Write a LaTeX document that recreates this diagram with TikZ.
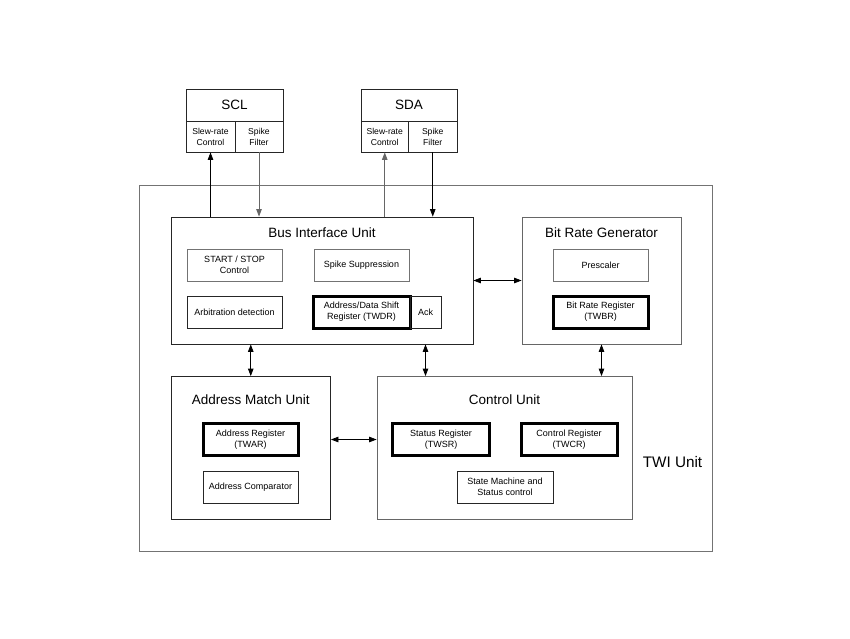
\documentclass[tikz,border=0pt]{standalone}
\usepackage{fontspec}
\setmainfont{Liberation Sans}
\usetikzlibrary{arrows.meta}

\begin{document}
\begin{tikzpicture}[x=1pt,y=-1pt,
    box/.style={draw=black!85,line width=0.8pt,inner sep=0pt,align=center,
                minimum width=95,minimum height=32,font=\fontsize{9}{11.3}\selectfont},
    greybox/.style={box,draw=black!55},
    regbox/.style={box,draw=black,line width=3pt},
    cell/.style={box,minimum height=30.5,font=\fontsize{8.6}{11}\selectfont},
    unit/.style={draw=black!85,line width=0.8pt,inner sep=0pt},
    title/.style={inner sep=0pt,font=\fontsize{13.5}{16}\selectfont},
    link/.style={line width=0.8pt,-{Triangle[length=7.5pt,width=5.5pt]}},
    both/.style={line width=0.8pt,{Triangle[length=7.5pt,width=5.5pt]}-{Triangle[length=7.5pt,width=5.5pt]}}]

    \useasboundingbox (0,0) rectangle (850,638);

    % pins
    \node[unit,minimum width=97,minimum height=32.5,title] (scl) at (234.5,105.25) {SCL};
    \node[cell,minimum width=49] (sclslew) at (210.5,136.75) {Slew-rate\\Control};
    \node[cell,minimum width=48] (sclspike) at (259,136.75) {Spike\\Filter};
    \node[unit,minimum width=96,minimum height=32.5,title] (sda) at (409,105.25) {SDA};
    \node[cell,minimum width=47.5] (sdaslew) at (384.75,136.75) {Slew-rate\\Control};
    \node[cell,minimum width=48.5] (sdaspike) at (432.75,136.75) {Spike\\Filter};

    % units
    \node[unit,draw=black!55,minimum width=573,minimum height=366] (twi) at (425.5,368) {};
    \node[unit,minimum width=302,minimum height=127] (biu) at (322,280.5) {};
    \node[unit,draw=black!60,minimum width=159,minimum height=127] (brg) at (601.5,280.5) {};
    \node[unit,minimum width=159.5,minimum height=142.5] (amu) at (250.75,447.75) {};
    \node[unit,draw=black!60,minimum width=255,minimum height=143] (cu) at (504.5,448) {};

    \node[title] (biutitle) at (322,232.5) {Bus Interface Unit};
    \node[title] (brgtitle) at (601.5,232.5) {Bit Rate Generator};
    \node[title] (amutitle) at (250.75,399.5) {Address Match Unit};
    \node[title] (cutitle) at (504.5,399.5) {Control Unit};
    \node[title,font=\fontsize{15.3}{18}\selectfont] (twititle) at (672.5,462.5) {TWI Unit};

    % bus interface unit
    \node[greybox] (startstop) at (234.5,265) {START / STOP\\Control};
    \node[greybox] (spikesup) at (361.5,265) {Spike Suppression};
    \node[box] (arbit) at (234.5,312) {Arbitration detection};
    \node[regbox,minimum width=97] (twdr) at (361.5,312) {Address/Data Shift\\Register (TWDR)};
    \node[box,minimum width=31] (ack) at (425.5,312) {Ack};

    % bit rate generator
    \node[greybox] (presc) at (600.5,265) {Prescaler};
    \node[regbox] (twbr) at (600.5,312) {Bit Rate Register\\(TWBR)};

    % address match unit
    \node[regbox] (twar) at (250.5,439.5) {Address Register\\(TWAR)};
    \node[box] (addrcmp) at (250.5,487) {Address Comparator};

    % control unit
    \node[regbox,minimum width=97] (twsr) at (441,439.5) {Status Register\\(TWSR)};
    \node[regbox,minimum width=96] (twcr) at (569,439.5) {Control Register\\(TWCR)};
    \node[box,minimum width=96] (fsm) at (505,487) {State Machine and\\Status control};

    % pin connections
    \draw[link] (sclslew.south |- biu.north) -- (sclslew.south);
    \draw[link,black!60] (sclspike.south) -- (sclspike.south |- biu.north);
    \draw[link,black!60] (sdaslew.south |- biu.north) -- (sdaslew.south);
    \draw[link] (sdaspike.south) -- (sdaspike.south |- biu.north);

    % unit connections
    \draw[both] (biu.east) -- (brg.west);
    \draw[both] (biu.south -| amu.north) -- (amu.north);
    \draw[both] (biu.south -| ack.south) -- (ack.south |- cu.north);
    \draw[both] (brg.south) -- (brg.south |- cu.north);
    \draw[both] (twar.east -| amu.east) -- (twar.east -| cu.west);
\end{tikzpicture}
\end{document}
